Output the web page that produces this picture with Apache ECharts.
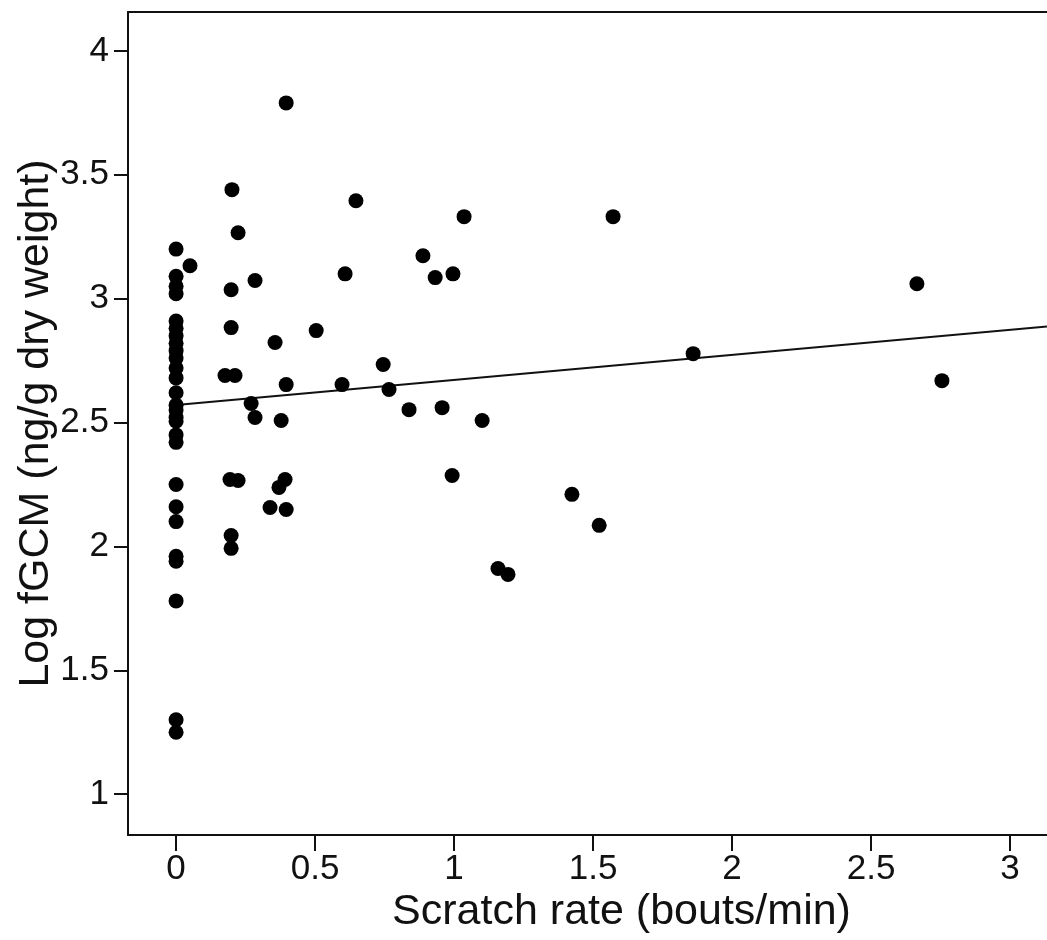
<!DOCTYPE html>
<html>
<head>
<meta charset="utf-8">
<script src="https://cdn.jsdelivr.net/npm/echarts@6/dist/echarts.min.js"></script>
<style>
html,body{margin:0;padding:0;background:#fff;}
#chart{width:1047px;height:940px;}
</style>
</head>
<body>
<div id="chart"></div>
<script>
// Scratch rate (bouts/min)
var scratchRate = [
  0,0,0,0,0,0,0,0,0,0,0,0,0,0,0,0,0,0,0,0,0,0,0,0,0,0,0,
  0.05,0.223,0.198,0.284,0.198,0.356,0.176,0.212,0.27,0.284,0.378,
  0.396,0.201,0.647,1.036,0.888,0.932,0.996,0.608,0.504,0.745,
  0.396,0.597,0.766,0.838,0.957,1.101,0.993,0.194,0.223,0.392,0.370,
  0.338,0.396,0.198,0.198,1.572,1.86,1.424,1.522,1.158,1.194,2.665,2.755
];
// Log fGCM (ng/g dry weight)
var logFGCM = [
  3.20,3.09,3.05,3.02,2.91,2.88,2.85,2.82,2.79,2.76,2.72,2.68,2.62,2.57,2.55,2.52,2.45,2.42,
  2.25,2.16,2.10,1.96,1.94,1.78,1.30,1.25,2.505,
  3.133,3.266,3.036,3.073,2.883,2.823,2.69,2.69,2.577,2.52,2.508,
  3.79,3.44,3.395,3.331,3.173,3.085,3.10,3.10,2.871,2.734,
  2.653,2.653,2.633,2.552,2.56,2.508,2.286,2.27,2.266,2.27,2.238,
  2.157,2.149,2.044,1.992,3.331,2.778,2.21,2.085,1.911,1.887,3.06,2.669
];
// Fitted regression line endpoints [x, y]
var fitLine = [[0, 2.571], [3.133, 2.888]];
var xTicks = [0, 0.5, 1, 1.5, 2, 2.5, 3];
var yTicks = [1, 1.5, 2, 2.5, 3, 3.5, 4];

var points = scratchRate.map(function (x, i) { return [x, logFGCM[i]]; });

var font = "'Liberation Sans', Arial, Helvetica, sans-serif";
var ink = '#111';
var chart = echarts.init(document.getElementById('chart'), null, {renderer: 'canvas'});
chart.setOption({
  backgroundColor: '#fff',
  animation: false,
  grid: {left: 128, top: 12, right: 0, bottom: 105, show: false, containLabel: false, outerBoundsMode: 'none'},
  xAxis: [{
    type: 'value', min: -0.173, max: 3.133, position: 'bottom',
    name: 'Scratch rate (bouts/min)', nameLocation: 'middle', nameGap: 77, nameMoveOverlap: false,
    nameTextStyle: {fontFamily: font, fontSize: 43, color: ink, verticalAlign: 'middle', align: 'center', padding: [0, 0, 0, 68]},
    axisLine: {show: true, onZero: false, lineStyle: {color: ink, width: 2}},
    splitLine: {show: false},
    axisTick: {show: true, customValues: xTicks, length: 16, inside: false, lineStyle: {color: ink, width: 2}},
    axisLabel: {customValues: xTicks, margin: 17, fontFamily: font, fontSize: 35, color: ink}
  }, {
    type: 'value', min: -0.173, max: 3.133, position: 'top',
    axisLine: {show: true, onZero: false, lineStyle: {color: ink, width: 2}},
    axisTick: {show: false}, axisLabel: {show: false}, splitLine: {show: false}
  }],
  yAxis: {
    type: 'value', min: 0.835, max: 4.157, position: 'left',
    name: 'Log fGCM (ng/g dry weight)', nameLocation: 'middle', nameGap: 92, nameRotate: 90, nameMoveOverlap: false,
    nameTextStyle: {fontFamily: font, fontSize: 43, color: ink, verticalAlign: 'middle', align: 'center'},
    axisLine: {show: true, onZero: false, lineStyle: {color: ink, width: 2}},
    splitLine: {show: false},
    axisTick: {show: true, customValues: yTicks, length: 14, inside: false, lineStyle: {color: ink, width: 2}},
    axisLabel: {customValues: yTicks, margin: 19, fontFamily: font, fontSize: 35, color: ink}
  },
  series: [
    {
      type: 'line', data: fitLine, symbol: 'none', z: 1, clip: true,
      lineStyle: {color: ink, width: 2}
    },
    {
      type: 'scatter', data: points, symbol: 'circle', symbolSize: 15, z: 2,
      itemStyle: {color: '#000', opacity: 1}
    }
  ]
});
</script>
</body>
</html>
